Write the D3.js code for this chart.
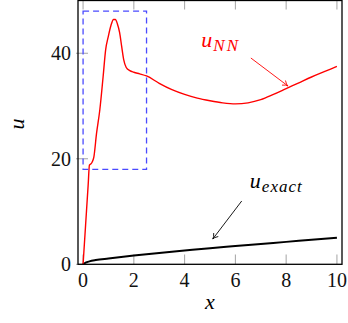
<!DOCTYPE html>
<html><head><meta charset="utf-8">
<script src="https://cdn.jsdelivr.net/npm/d3@7"></script>
<style>
html,body{margin:0;padding:0;background:#fff;}
svg{display:block;}
</style>
</head><body>
<script>
// ---- data ----
const nnX = [0, 0.1, 0.2, 0.25, 0.3, 0.36, 0.42, 0.53, 0.66, 0.79, 0.89, 0.99, 1.1, 1.2, 1.27, 1.35, 1.44, 1.52, 1.6, 1.7, 1.84, 2.0, 2.23, 2.5, 3.0, 3.5, 4.0, 4.5, 5.0, 5.5, 6.0, 6.5, 7.0, 7.5, 8.0, 8.5, 9.0, 9.5, 10];
const nnU = [0, 7.5, 15, 18.8, 19.0, 19.4, 20.2, 24.8, 29.3, 35.6, 40.7, 43.1, 45.3, 46.4, 46.4, 45.6, 43.9, 41.3, 38.8, 37.3, 36.7, 36.4, 36.1, 35.7, 34.3, 33.1, 32.2, 31.5, 31.0, 30.6, 30.4, 30.6, 31.2, 32.2, 33.3, 34.4, 35.5, 36.5, 37.5];
const exX = [0, 0.1, 0.25, 0.5, 1, 2, 3, 4, 5, 6, 7, 8, 9, 10];
const exU = [0, 0.3, 0.55, 0.8, 1.1, 1.65, 2.15, 2.6, 3.05, 3.45, 3.85, 4.25, 4.65, 5.05];
const xTicks = [0, 2, 4, 6, 8, 10];
const yTicks = [0, 20, 40];
const zoomBox = {x0: 0, x1: 2.5, u0: 18, u1: 48};

// ---- layout ----
const W = 348, H = 323;
const FONT = "Liberation Serif";
const svg = d3.select("body").append("svg").attr("width", W).attr("height", H);
const x = d3.scaleLinear().domain([-0.2, 10.2]).range([78, 342]);
const y = d3.scaleLinear().domain([0, 50]).range([264.3, 0.5]);

svg.append("clipPath").attr("id", "clip").append("rect")
  .attr("x", 78).attr("y", 0.5).attr("width", 264).attr("height", 263.8);

// ticks (inside) bottom & top, left
const tickG = svg.append("g").attr("stroke", "#999").attr("stroke-width", 0.9);
xTicks.forEach(t => {
  tickG.append("line").attr("x1", x(t)).attr("x2", x(t)).attr("y1", 264.3).attr("y2", 254.5);
  tickG.append("line").attr("x1", x(t)).attr("x2", x(t)).attr("y1", 0.5).attr("y2", 9.5);
});
yTicks.forEach(t => {
  tickG.append("line").attr("x1", 76).attr("x2", 88).attr("y1", y(t)).attr("y2", y(t));
});

// tick labels
const tl = svg.append("g").attr("font-family", FONT).attr("font-size", 20).attr("fill", "#111");
xTicks.forEach(t => {
  tl.append("text").attr("x", x(t)).attr("y", 286.5).attr("text-anchor", "middle").text(t);
});
yTicks.forEach(t => {
  tl.append("text").attr("x", 71).attr("y", y(t) + 7).attr("text-anchor", "end").text(t);
});

// axis labels
svg.append("text").attr("x", 210).attr("y", 309).attr("text-anchor", "middle")
  .attr("font-family", FONT).attr("font-style", "italic").attr("font-size", 22).text("x");
svg.append("text").attr("transform", "translate(24,124) rotate(-90)").attr("text-anchor", "middle")
  .attr("font-family", FONT).attr("font-style", "italic").attr("font-size", 22).text("u");

// curves
const plot = svg.append("g").attr("clip-path", "url(#clip)");
const line = d3.line().x(d => x(d[0])).y(d => y(d[1])).curve(d3.curveMonotoneX);
plot.append("path").datum(exX.map((v, i) => [v, exU[i]])).attr("d", line)
  .attr("fill", "none").attr("stroke", "#000").attr("stroke-width", 2);
plot.append("path").datum(nnX.map((v, i) => [v, nnU[i]])).attr("d", line)
  .attr("fill", "none").attr("stroke", "#ff0000").attr("stroke-width", 1.4);

// zoom box
svg.append("rect")
  .attr("x", x(zoomBox.x0)).attr("y", y(zoomBox.u1))
  .attr("width", x(zoomBox.x1) - x(zoomBox.x0)).attr("height", y(zoomBox.u0) - y(zoomBox.u1))
  .attr("fill", "none").attr("stroke", "#4a4aff").attr("stroke-width", 1.3).attr("stroke-dasharray", "6,4");

// frame
svg.append("rect").attr("x", 78).attr("y", 0.5).attr("width", 264).attr("height", 263.8)
  .attr("fill", "none").attr("stroke", "#000").attr("stroke-width", 1.3);

// annotations
function arrow(x1, u1, x2, u2, color) {
  const X1 = x(x1), Y1 = y(u1), X2 = x(x2), Y2 = y(u2);
  svg.append("line").attr("x1", X1).attr("y1", Y1).attr("x2", X2).attr("y2", Y2)
    .attr("stroke", color).attr("stroke-width", 0.9);
  const a = Math.atan2(Y2 - Y1, X2 - X1), L = 6, s = 0.5;
  const p = d3.path();
  p.moveTo(X2 - L * Math.cos(a - s), Y2 - L * Math.sin(a - s));
  p.quadraticCurveTo(X2 - 2 * Math.cos(a), Y2 - 2 * Math.sin(a), X2, Y2);
  p.quadraticCurveTo(X2 - 2 * Math.cos(a), Y2 - 2 * Math.sin(a), X2 - L * Math.cos(a + s), Y2 - L * Math.sin(a + s));
  svg.append("path").attr("d", p.toString()).attr("fill", "none").attr("stroke", color).attr("stroke-width", 0.9);
}
function mathLabel(xv, uv, main, sub, color, spacing) {
  const t = svg.append("text").attr("x", x(xv)).attr("y", y(uv))
    .attr("font-family", FONT).attr("font-style", "italic").attr("fill", color);
  t.append("tspan").attr("font-size", 22).text(main);
  t.append("tspan").attr("font-size", 17).attr("dy", 4).attr("dx", 1)
    .attr("letter-spacing", spacing).text(sub);
}
arrow(6.61, 39.1, 8.07, 33.8, "#ff0000");
mathLabel(4.66, 41.2, "u", "NN", "#ff0000", 2);
arrow(6.25, 12.0, 5.11, 4.8, "#000");
mathLabel(6.57, 14.5, "u", "exact", "#000", 1);
</script>
</body></html>
